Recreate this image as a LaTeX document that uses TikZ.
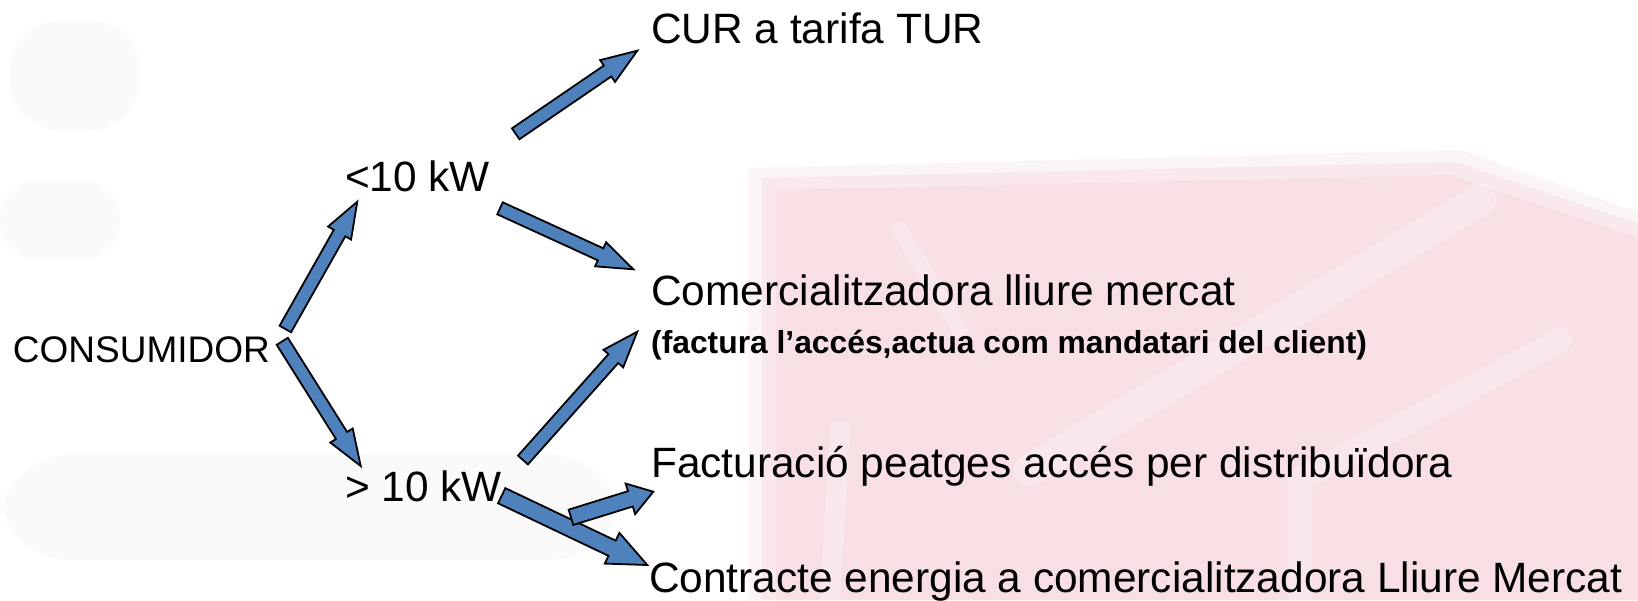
\documentclass[tikz,border=0pt]{standalone}
\usepackage{fontspec}
\setmainfont{Liberation Sans}
\usetikzlibrary{calc}
\definecolor{arrowblue}{HTML}{4F81BD}
\definecolor{wmpink}{HTML}{F7DFE3}
\definecolor{wmgray}{HTML}{F4F4F4}
\tikzset{
  barrow/.style={draw=black, fill=arrowblue, line width=0.9pt, line join=miter},
  bigtext/.style={anchor=base west, inner sep=0pt, font=\fontsize{21.2}{25}\selectfont},
  midtext/.style={anchor=base west, inner sep=0pt, font=\fontsize{18.5}{22}\selectfont},
  subtext/.style={anchor=base west, inner sep=0pt, font=\fontsize{15.9}{19}\selectfont\bfseries},
}
% #1 tail coordinate, #2 tip coordinate, #3 shaft half width, #4 head half width, #5 head length
\newcommand\blockarrow[5]{%
  \coordinate (#1-#2-h) at ($(#2)!#5!(#1)$);
  \draw[barrow]
    ($(#1)!#3!90:(#2)$) -- ($(#1-#2-h)!#3!90:(#2)$) -- ($(#1-#2-h)!#4!90:(#2)$) --
    (#2) --
    ($(#1-#2-h)!#4!-90:(#2)$) -- ($(#1-#2-h)!#3!-90:(#2)$) -- ($(#1)!#3!-90:(#2)$) -- cycle;
}
\begin{document}
\begin{tikzpicture}[x=0.5pt, y=-0.5pt]
\useasboundingbox (0,0) rectangle (1638,600);
\fill[white] (0,0) rectangle (1638,600);
% faded watermark
\fill[wmpink, opacity=0.3] (748,168) -- (1462,150) -- (1638,212) -- (1638,600) -- (748,600) -- cycle;
\fill[wmpink, opacity=0.5] (762,178) -- (1456,162) -- (1638,224) -- (1638,600) -- (762,600) -- cycle;
\fill[wmpink] (776,190) -- (1450,175) -- (1638,238) -- (1638,600) -- (776,600) -- cycle;
\begin{scope}[white, opacity=0.3, line cap=round]
  \draw[line width=16pt] (1030,470) -- (1480,200);
  \draw[line width=12pt] (1300,600) -- (1300,480) -- (1560,340);
  \draw[line width=10pt] (830,600) -- (840,430);
  \draw[line width=8pt] (900,230) -- (960,330);
\end{scope}
\begin{scope}[wmgray, opacity=0.4]
  \fill[rounded corners=25pt] (10,20) rectangle (140,130);
  \fill[rounded corners=20pt] (0,180) rectangle (120,260);
  \fill[rounded corners=35pt] (0,455) rectangle (620,560);
\end{scope}

% texts
\node[midtext] (cons) at (12.5,362.5) {CONSUMIDOR};
\node[bigtext] (lt) at (344.7,191) {<10 kW};
\node[bigtext] (gt) at (344.7,501.4) {> 10 kW};
\node[bigtext] (cur) at (650.8,43.9) {CUR a tarifa TUR};
\node[bigtext] (com) at (650.8,305) {Comercialitzadora lliure mercat};
\node[subtext] (comsub) at (650.8,353) {(factura l’accés,actua com mandatari del client)};
\node[bigtext] (fac) at (650.8,477.4) {Facturació peatges accés per distribuïdora};
\node[bigtext] (con) at (648.7,592) {Contracte energia a comercialitzadora Lliure Mercat};

% arrow end points
\coordinate (a1s) at (285.3,329);   \coordinate (a1e) at (357.3,201.7);
\coordinate (a2s) at (282.3,341.3); \coordinate (a2e) at (360.7,466);
\coordinate (a3s) at (500,208.3);   \coordinate (a3e) at (633.3,269.3);
\coordinate (a4s) at (523,460);     \coordinate (a4e) at (637.3,331.7);
\coordinate (a5s) at (515.7,133.8); \coordinate (a5e) at (637.3,50.7);
\coordinate (a6s) at (501.7,495.7); \coordinate (a6e) at (647.3,565);
\coordinate (a7s) at (571,517.3);   \coordinate (a7e) at (653.3,491.7);

\blockarrow{a1s}{a1e}{3.3pt}{6.6pt}{18pt}
\blockarrow{a2s}{a2e}{3.3pt}{6.6pt}{18pt}
\blockarrow{a3s}{a3e}{3.3pt}{6.6pt}{18pt}
\blockarrow{a4s}{a4e}{3.3pt}{6.6pt}{18pt}
\blockarrow{a5s}{a5e}{3.3pt}{6.6pt}{18pt}
\blockarrow{a6s}{a6e}{4.2pt}{8.5pt}{19.5pt}
\blockarrow{a7s}{a7e}{4pt}{8pt}{12pt}
\end{tikzpicture}
\end{document}
